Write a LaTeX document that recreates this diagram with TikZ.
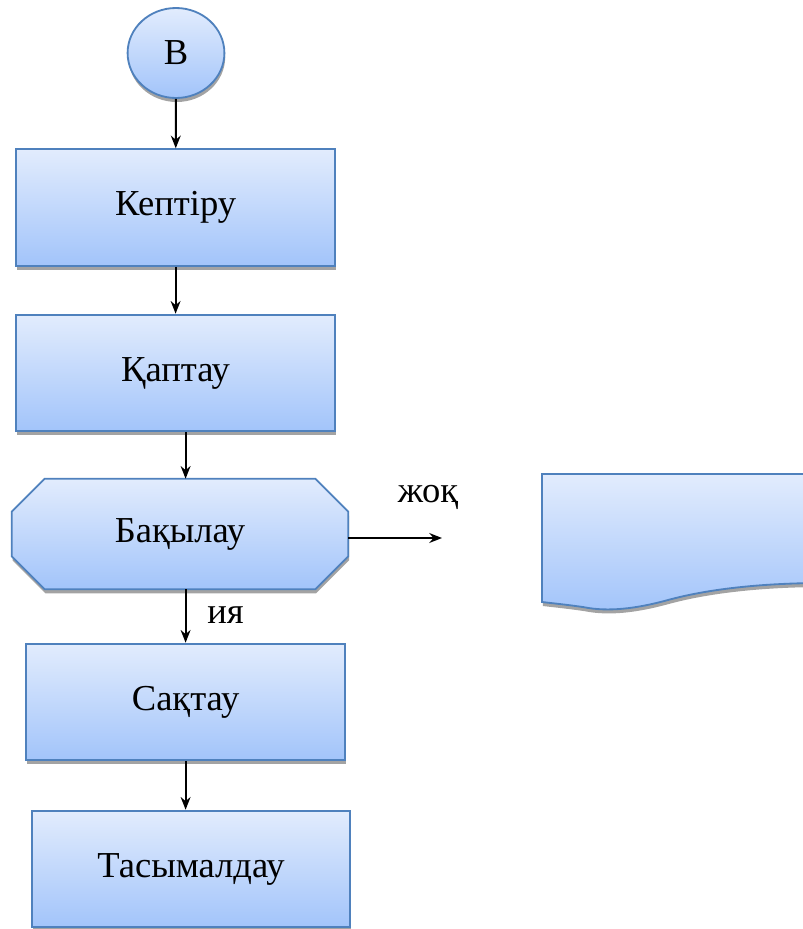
\documentclass[tikz,border=0pt]{standalone}
\usepackage{fontspec}
\setmainfont{Liberation Serif}
\usepackage{tikz}
\usetikzlibrary{arrows.meta,positioning,shapes,shadows,calc,backgrounds}
\definecolor{boxtop}{RGB}{226,236,253}
\definecolor{boxbot}{RGB}{162,196,250}
\definecolor{boxline}{RGB}{79,129,189}
\tikzset{
  % common text
  every node/.append style={font=\fontsize{26}{30}\selectfont},
  % shaded fill with shadow
  shade/.style={
    draw=boxline,
    line width=1.3pt,
    top color=boxtop,
    bottom color=boxbot,
    drop shadow={shadow xshift=0.02cm, shadow yshift=-0.1cm, fill=black!45, opacity=0.8}
  },
  % process box
  procbox/.style={shade, rectangle, minimum width=7.98cm, minimum height=2.92cm},
  % start circle
  startnode/.style={shade, ellipse, minimum width=2.42cm, minimum height=2.25cm, inner sep=0pt},
  % arrows
  arr/.style={-{Stealth[length=9pt,width=7pt]}, line width=1.4pt, black},
}

\begin{document}
\begin{tikzpicture}
        \useasboundingbox (0,0) rectangle (20.075,-23.225);
        \clip (0,0) rectangle (20.075,-23.225);

        % Nodes
        \node[startnode] (b) at (4.40,-1.325) {B};
        \node[procbox] (kep) at (4.39,-5.19) {Кептіру};
        \node[procbox] (kap) at (4.39,-9.325) {Қаптау};
        \node[minimum width=8.4cm, minimum height=2.75cm] (bak) at (4.5,-13.35) {Бақылау};
        \node[procbox] (sak) at (4.64,-17.55) {Сақтау};
        \node[procbox, minimum width=7.95cm] (tas) at (4.775,-21.725) {Тасымалдау};

        % Octagon behind the check node
        \begin{scope}[on background layer]
            \path[shade] ([xshift=0.825cm]bak.north west) -- ([xshift=-0.825cm]bak.north east)
                -- ([yshift=-0.825cm]bak.north east) -- ([yshift=0.825cm]bak.south east)
                -- ([xshift=-0.825cm]bak.south east) -- ([xshift=0.825cm]bak.south west)
                -- ([yshift=0.825cm]bak.south west) -- ([yshift=-0.825cm]bak.north west) -- cycle;
        \end{scope}

        % Document shape
        \path[shade] (13.55,-11.85) -- (20.6,-11.85) -- (20.6,-14.575)
            .. controls (19.2,-14.575) and (17.8,-14.7) .. (16.7,-15.0)
            .. controls (15.9,-15.22) and (15.2,-15.3) .. (14.6,-15.18)
            .. controls (14.2,-15.12) and (13.8,-15.08) .. (13.55,-15.05) -- cycle;

        % Connectors
        \coordinate (zhok) at (11.05,-13.45);
        \draw[arr] (b) -- (kep);
        \draw[arr] (kep) -- (kap);
        \draw[arr] (kap.south -| sak.center) -- (bak.north -| sak.center);
        \draw[arr] (bak.south -| sak.center) -- (sak.north -| sak.center);
        \draw[arr] (sak.south) -- (tas.north -| sak.center);
        \draw[arr] (bak.east |- zhok) -- (zhok);

        % Labels
        \node[anchor=base] (no) at (10.7,-12.55) {жоқ};
        \node[anchor=base] (yes) at (5.64,-15.575) {ия};
\end{tikzpicture}
\end{document}
